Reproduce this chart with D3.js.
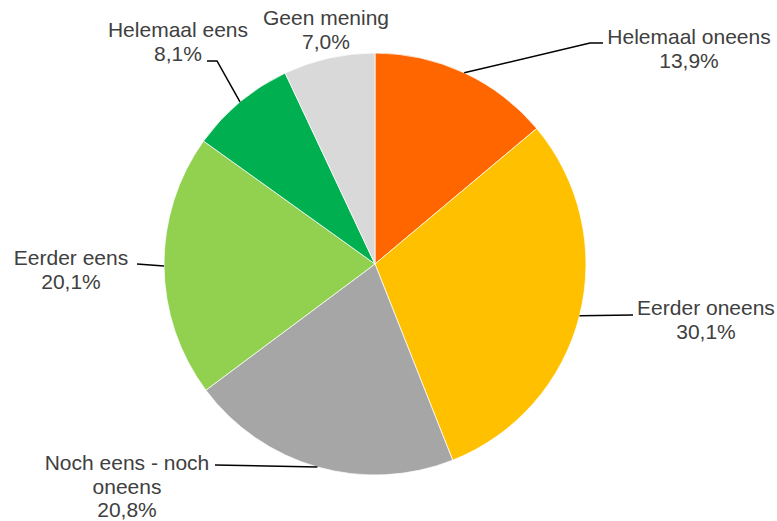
<!DOCTYPE html>
<html><head><meta charset="utf-8">
<script src="https://cdn.jsdelivr.net/npm/d3@7"></script>
<style>body{margin:0;background:#fff}svg{display:block}</style>
</head><body>
<svg id="c" width="777" height="521"></svg>
<script>
const categories = ["Helemaal oneens","Eerder oneens","Noch eens - noch oneens","Eerder eens","Helemaal eens","Geen mening"];
const values = [13.9, 30.1, 20.8, 20.1, 8.1, 7.0];
const valueLabels = ["13,9%","30,1%","20,8%","20,1%","8,1%","7,0%"];
const colors = ["#FF6600","#FFC000","#A6A6A6","#92D050","#00B050","#D9D9D9"];

// label layout: lines of text, anchor x, first baseline y, leader elbow points (null = no leader)
const labelLines = [["Helemaal oneens"],["Eerder oneens"],["Noch eens - noch","oneens"],["Eerder eens"],["Helemaal eens"],["Geen mening"]];
const layout = [
  {x:689, y:44, elbow:[[590,43],[603,43]]},
  {x:706, y:315, elbow:[[633,315]]},
  {x:127, y:470, elbow:[[215,465]]},
  {x:71, y:265, elbow:[[137,264]]},
  {x:178, y:37, elbow:[[217,61],[207,61]]},
  {x:326, y:25, elbow:null}
];

const svg = d3.select("#c");
const cx = 375, cy = 264, r = 211;
const g = svg.append("g").attr("transform", `translate(${cx},${cy})`);
const pie = d3.pie().sort(null).value(d => d)(values);
const arc = d3.arc().innerRadius(0).outerRadius(r);

g.selectAll("path.s").data(pie).join("path")
  .attr("class","s")
  .attr("d", arc)
  .attr("fill", (d,i) => colors[i])
  .attr("stroke", "#fff").attr("stroke-width", 0.75);

// leaders
pie.forEach((d,i) => {
  const L = layout[i];
  if (!L.elbow) return;
  const a = (d.startAngle + d.endAngle)/2;
  const p0 = [cx + r*Math.sin(a), cy - r*Math.cos(a)];
  const pts = [p0, ...L.elbow];
  svg.append("path")
    .attr("d", d3.line()(pts))
    .attr("fill","none").attr("stroke","#000").attr("stroke-width",1.5);
});

// labels
const fs = 21, lh = 23.7;
pie.forEach((d,i) => {
  const L = layout[i];
  const lines = [...labelLines[i], valueLabels[i]];
  const t = svg.append("text")
    .attr("text-anchor","middle")
    .attr("font-family","'Liberation Sans', Arial, sans-serif")
    .attr("font-size", fs).attr("fill","#404040");
  lines.forEach((s,k) => {
    t.append("tspan").attr("x", L.x).attr("y", L.y + k*lh).text(s);
  });
});
</script>
</body></html>
